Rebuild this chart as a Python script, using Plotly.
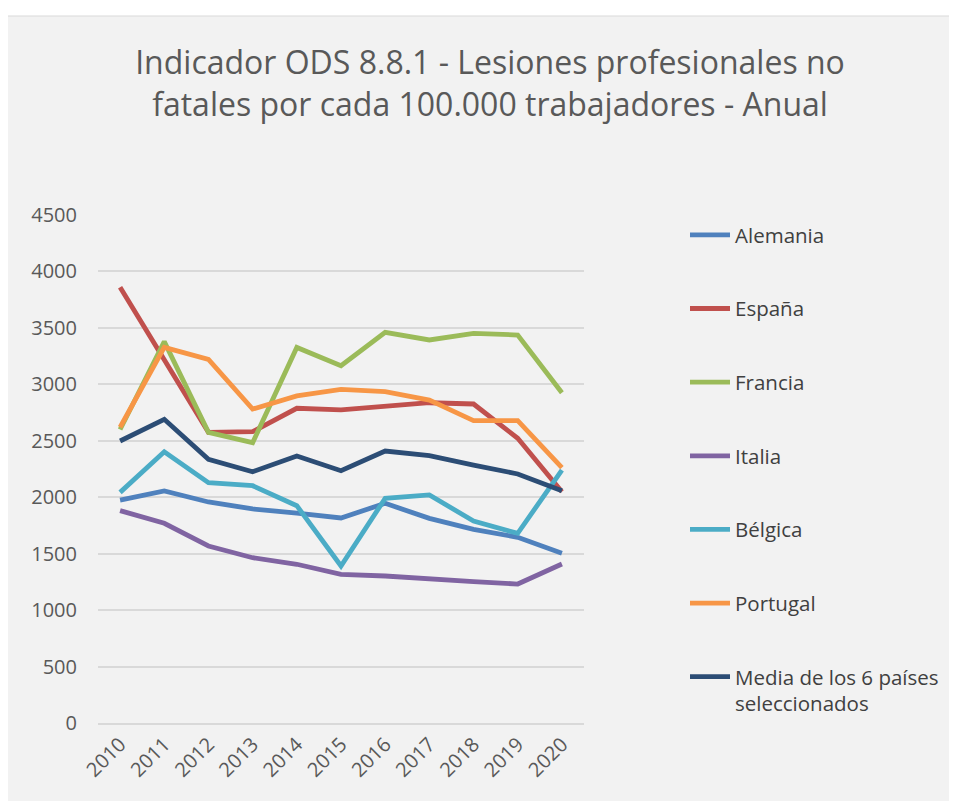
import plotly.graph_objects as go

years = ["2010", "2011", "2012", "2013", "2014", "2015", "2016", "2017", "2018", "2019", "2020"]

alemania = [1975, 2055, 1958, 1896, 1860, 1816, 1946, 1813, 1716, 1645, 1503]
espana = [3859, 3218, 2575, 2581, 2788, 2773, 2808, 2837, 2826, 2522, 2049]
francia = [2600, 3378, 2575, 2483, 3327, 3165, 3461, 3393, 3452, 3437, 2926]
italia = [1881, 1769, 1568, 1464, 1406, 1317, 1302, 1282, 1252, 1231, 1408]
belgica = [2043, 2403, 2129, 2102, 1925, 1391, 1990, 2020, 1789, 1680, 2241]
portugal = [2620, 3327, 3221, 2781, 2897, 2956, 2935, 2861, 2678, 2678, 2262]
media = [2498, 2690, 2336, 2226, 2365, 2235, 2409, 2368, 2285, 2206, 2058]

series_names = ["Alemania", "España", "Francia", "Italia", "Bélgica", "Portugal",
                "Media de los 6 países<br>seleccionados"]
series_values = [alemania, espana, francia, italia, belgica, portugal, media]
series_colors = ["#4f81bd", "#c0504d", "#9bbb59", "#8064a2", "#4bacc6", "#f79646", "#2c4d75"]

y_ticks = [0, 500, 1000, 1500, 2000, 2500, 3000, 3500, 4000, 4500]

fig = go.Figure()
for i, (name, vals, col) in enumerate(zip(series_names, series_values, series_colors)):
    fig.add_trace(go.Scatter(
        x=years, y=vals, name=name, mode="lines",
        line=dict(color=col, width=4.8),
        legendgroup=f"g{i}",
    ))

font_family = "Open Sans, Liberation Sans, sans-serif"

# page has an 8px body margin; figure is sized to compensate
W, H = 949, 793
off = 8
pl, pr, pt, pb = 98 - off, 584 - off, 215 - off, 723 - off
pw, ph = pr - pl, pb - pt

fig.update_layout(
    width=W, height=H,
    margin=dict(l=pl, r=W - pr, t=pt, b=H - pb, autoexpand=False),
    paper_bgcolor="white",
    plot_bgcolor="rgba(0,0,0,0)",
    font=dict(family=font_family, color="#595959", size=20),
    title=dict(
        text="Indicador ODS 8.8.1 - Lesiones profesionales no<br>fatales por cada 100.000 trabajadores - Anual",
        x=(490 - off) / W, xanchor="center", y=1 - 66 / H, yanchor="top",
        font=dict(size=32, color="#595959", family=font_family),
    ),
    showlegend=True,
    legend=dict(
        x=(730 - off - 45 - pl) / pw, xanchor="left", y=1.0, yanchor="top",
        bgcolor="rgba(0,0,0,0)",
        font=dict(size=20.5, color="#404040"),
        tracegroupgap=44,
        valign="top",
        itemwidth=40,
        maxheight=700,
    ),
    xaxis=dict(
        type="category", tickangle=-45, showgrid=False,
        showline=True, linecolor="#d9d9d9", linewidth=1.5,
        ticks="", tickfont=dict(size=20, color="#595959"),
        range=[-0.5, 10.5], fixedrange=True,
    ),
    yaxis=dict(
        range=[0, 4500], tickvals=y_ticks, showgrid=True,
        gridcolor="#d9d9d9", gridwidth=1.5, zeroline=False,
        ticks="", ticklabelstandoff=20,
        tickfont=dict(size=20, color="#595959"),
    ),
    shapes=[dict(
        type="rect", xref="paper", yref="paper", layer="below",
        x0=(5 - off - pl) / pw, x1=(990 - pl) / pw,
        y0=(pb - 840) / ph, y1=(pb - (16 - off)) / ph,
        fillcolor="#f2f2f2", line=dict(color="#d9d9d9", width=1),
    )],
)

fig.write_html("out.html")
